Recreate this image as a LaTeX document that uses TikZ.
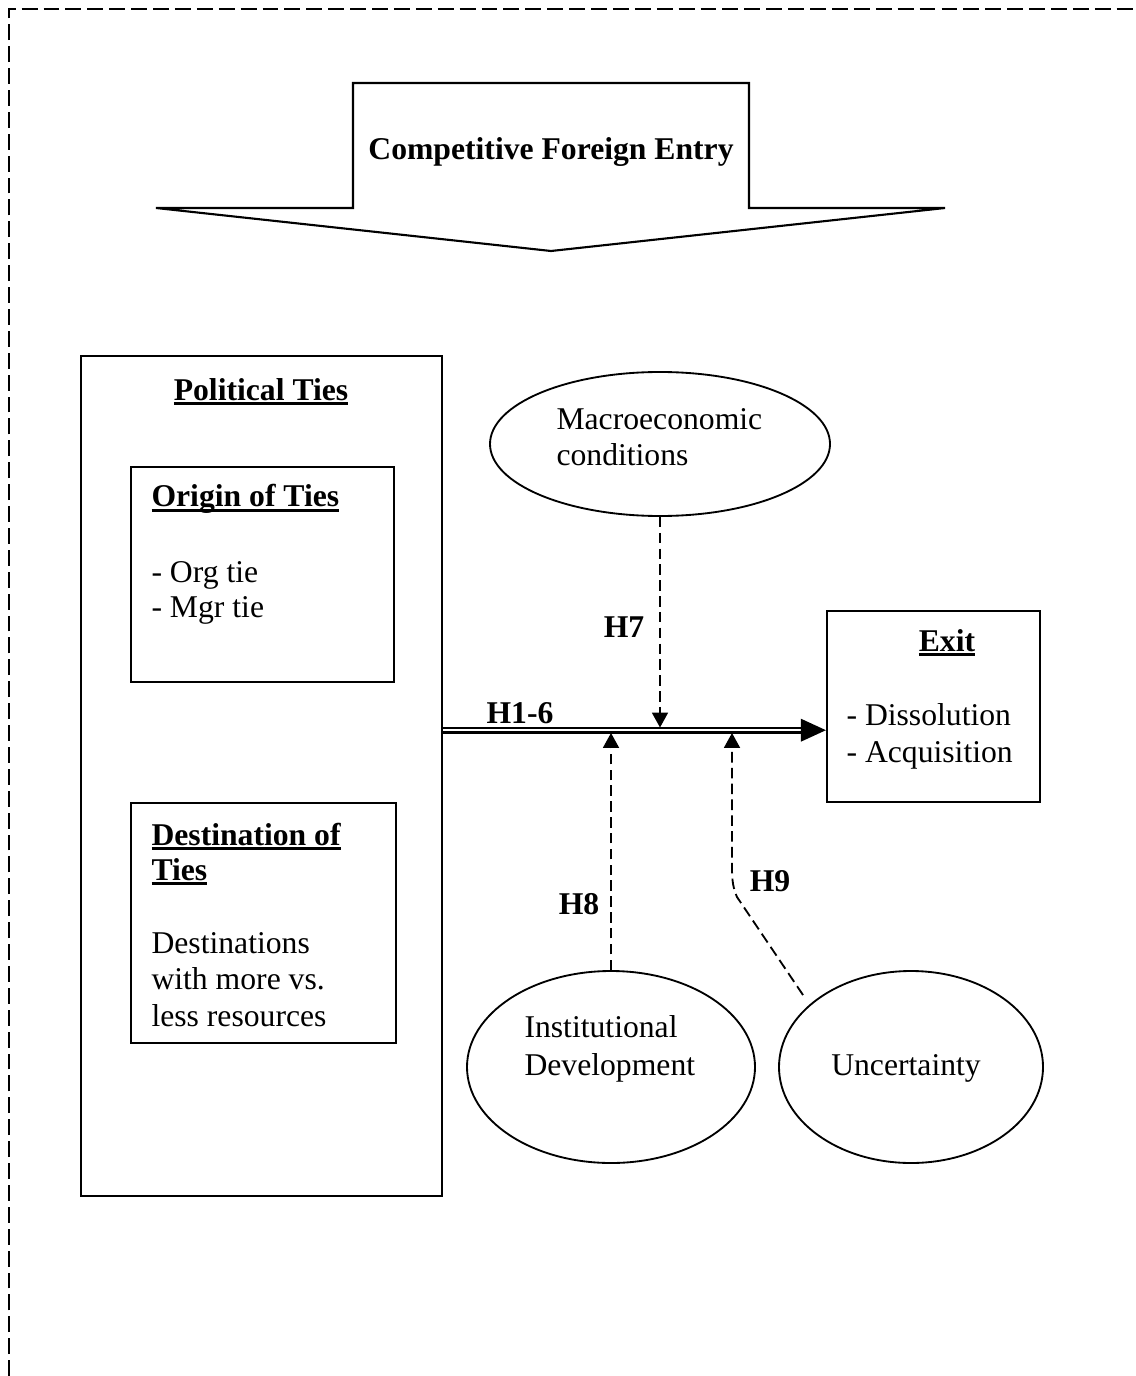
\documentclass[tikz,border=0pt]{standalone}
\usepackage{fontspec}
\setmainfont{Liberation Serif}
\usetikzlibrary{shapes.geometric,arrows.meta,fit}
\newsavebox\ulbox
\newcommand\myul[1]{\sbox\ulbox{#1}\rlap{\vrule width\wd\ulbox height -0.7pt depth 1.9pt}\usebox\ulbox}
\begin{document}
\begin{tikzpicture}[x=0.379pt,y=-0.379pt,
  every node/.style={font=\fontsize{12}{14}\selectfont, inner sep=0pt},
  txt/.style={anchor=base west},
  ctxt/.style={anchor=base},
  box/.style={draw, line width=0.85pt, inner sep=0pt},
  oval/.style 2 args={ellipse, draw, line width=0.7pt, inner sep=0pt,
    minimum width=#1*0.379pt, minimum height=#2*0.379pt},
  modline/.style={line width=0.7pt, dash pattern=on 4pt off 2pt,
    -{Triangle[length=5.6pt,width=6pt]}},
  border/.style={line width=0.75pt, dash pattern=on 6pt off 2.3pt}
]
\useasboundingbox (0,0) rectangle (1136,1376);

% outer dashed frame
\draw[border] (9,1376) -- (9,9) -- (1136,9);

% block arrow
\draw[line width=0.8pt, line join=miter]
  (353,83) -- (749,83) -- (749,208) -- (945,208) -- (551,251)
  -- (156,208) -- (353,208) -- cycle;
\node[ctxt] (cfe) at (551,160) {\textbf{Competitive Foreign Entry}};

% political ties
\node[box, fit={(81,356) (442,1196)}] (pol) {};
\node[ctxt] (polT) at (261,400) {\myul{\textbf{Political Ties}}};

\node[box, fit={(131,467) (394,682)}] (orig) {};
\node[txt] (origT) at (151,507) {\myul{\textbf{Origin of Ties}}};
\node[txt] (orig1) at (151,582) {- Org tie};
\node[txt] (orig2) at (151,617) {- Mgr tie};

\node[box, fit={(131,803) (396,1043)}] (dest) {};
\node[txt] (destT1) at (151,845) {\myul{\textbf{Destination of}}};
\node[txt] (destT2) at (151,880) {\myul{\textbf{Ties}}};
\node[txt] (dest1) at (151,953) {Destinations};
\node[txt] (dest2) at (151,989) {with more vs.};
\node[txt] (dest3) at (151,1026) {less resources};

% exit
\node[box, fit={(827,611) (1040,802)}] (exit) {};
\node[ctxt] (exitT) at (947,651) {\myul{\textbf{Exit}}};
\node[txt] (exit1) at (846,725) {- Dissolution};
\node[txt] (exit2) at (846,762) {- Acquisition};

% ellipses
\node[oval={340}{144}] (mac) at (660,444) {};
\node[txt] (mac1) at (556,430) {Macroeconomic};
\node[txt] (mac2) at (556,466) {conditions};

\node[oval={288}{192}] (inst) at (611,1067) {};
\node[txt] (inst1) at (524,1037) {Institutional};
\node[txt] (inst2) at (524,1075) {Development};

\node[oval={264}{192}] (unc) at (911,1067) {};
\node[ctxt] (unc1) at (906,1075) {Uncertainty};

% main double arrow
\coordinate (mY) at (0,730.2);
\coordinate (mT) at (0,727.5);
\coordinate (mB) at (0,733);
\coordinate (tipL) at (804,730.2);
\draw[line width=0.9pt, double, double distance=0.9pt]
  (pol.east |- mY) -- (tipL);
\fill (exit.west |- mY) -- ++(-25,-11.5) -- ++(0,23) -- cycle;
\node[ctxt] (h16) at (520,723) {\textbf{H1-6}};

% moderators
\draw[modline] (mac.south) -- (mac.south |- mT);
\node[ctxt] (h7) at (624,637) {\textbf{H7}};

\draw[modline] (inst.north) -- (inst.north |- mB);
\node[ctxt] (h8) at (579,914) {\textbf{H8}};

\coordinate (h9s) at (803,995);
\coordinate (h9a) at (737,897);
\coordinate (h9k) at (732,868);
\draw[modline] (h9s) -- (h9a) .. controls (733,888) and (732,880) .. (h9k) -- (h9k |- mB);
\node[ctxt] (h9) at (770,891) {\textbf{H9}};
\end{tikzpicture}
\end{document}
